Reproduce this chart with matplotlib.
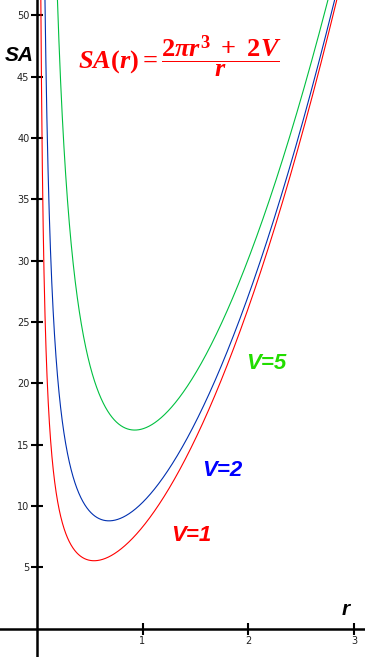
import numpy as np
import matplotlib.pyplot as plt

plt.rcParams['mathtext.fontset'] = 'custom'
plt.rcParams['mathtext.it'] = 'Liberation Serif:italic:bold'
plt.rcParams['mathtext.rm'] = 'Liberation Serif:bold'
plt.rcParams['mathtext.bf'] = 'Liberation Serif:bold'

# volumes for the three curves, SA(r) = (2*pi*r^3 + 2V) / r as in the chart
volumes = [1, 2, 5]
curve_colors = ['#ff0000', '#0030b0', '#00c040']
label_colors = ['#ff0000', '#0000ff', '#22dd00']
labels = ['V=1', 'V=2', 'V=5']
label_pos = [(1.46, 7.6), (1.75, 12.9), (2.17, 21.6)]

x_ticks = [1, 2, 3]
y_ticks = [5, 10, 15, 20, 25, 30, 35, 40, 45, 50]

r = np.linspace(0.01, 3.2, 2000)

fig = plt.figure(figsize=(3.65, 6.57), dpi=100)
ax = fig.add_axes([0, 0, 1, 1])

for V, c in zip(volumes, curve_colors):
    sa = (2 * np.pi * r**3 + 2 * V) / r
    ax.plot(r, sa, color=c, lw=0.8)

for txt, c, (x, y) in zip(labels, label_colors, label_pos):
    ax.text(x, y, txt, color=c, fontsize=16, fontweight='bold', fontstyle='italic',
            family='Liberation Sans', ha='center', va='center')

ax.text(1.35, 46.6, r'$SA(r)=\dfrac{2\pi r^3\ +\ 2V}{r}$', color='#ff0000', fontsize=19,
        ha='center', va='center')
ax.text(-0.167, 46.7, 'SA', fontsize=15, fontweight='bold', fontstyle='italic',
        family='Liberation Sans', ha='center', va='center')
ax.text(2.92, 1.6, 'r', fontsize=15, fontweight='bold', fontstyle='italic',
        family='Liberation Sans', ha='center', va='center')

ax.set_xlim(-0.347, 3.103)
ax.set_ylim(-2.31, 51.24)
for s in ['top', 'right']:
    ax.spines[s].set_visible(False)
for s in ['left', 'bottom']:
    ax.spines[s].set_position(('data', 0))
    ax.spines[s].set_linewidth(1.8)
ax.set_xticks(x_ticks)
ax.set_yticks(y_ticks)
ax.tick_params(direction='inout', length=8.5, width=1.5, labelsize=7, colors='black',
               labelcolor='#222222', pad=1)

fig.savefig('out.png', dpi=100)
